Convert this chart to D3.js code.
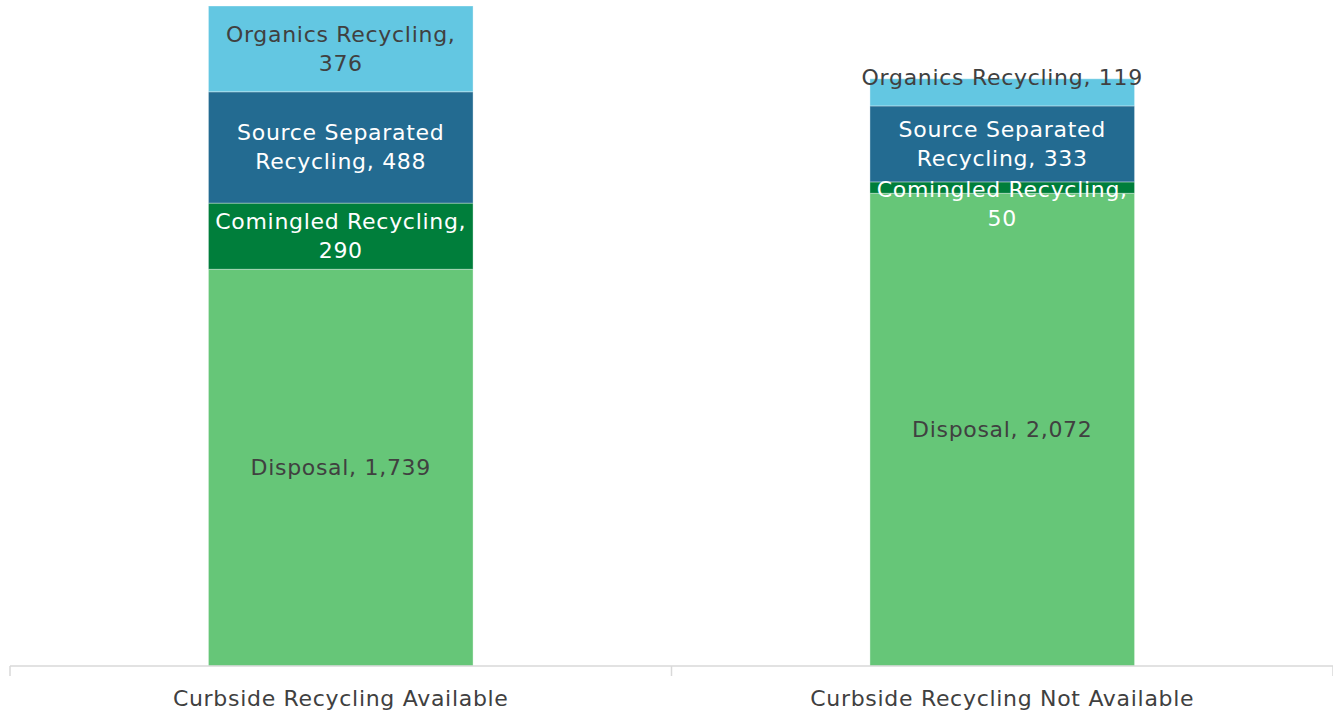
<!DOCTYPE html>
<html>
<head>
<meta charset="utf-8">
<script src="https://cdn.jsdelivr.net/npm/d3@7"></script>
<style>
  body { margin: 0; background: #fff; }
  svg text { font-family: "DejaVu Sans", sans-serif; letter-spacing: 0.7px; }
</style>
</head>
<body>
<div id="chart"></div>
<script>
// data
const categories = ['Curbside Recycling Available', 'Curbside Recycling Not Available'];
const seriesNames = ['Disposal', 'Comingled Recycling', 'Source Separated Recycling', 'Organics Recycling'];
const disposal = [1739, 2072];
const comingled = [290, 50];
const sourceSeparated = [488, 333];
const organics = [376, 119];

const seriesValues = [disposal, comingled, sourceSeparated, organics];
const colors = ['#66c678', '#007e3b', '#236b91', '#63c7e2'];
const labelColors = ['#404040', '#ffffff', '#ffffff', '#404040'];

const width = 1333, height = 714;
const fontSize = 22, lineH = 29;

const svg = d3.select('#chart').append('svg')
  .attr('width', width)
  .attr('height', height);

// stacked rows
const rows = categories.map((c, i) => {
  const r = { cat: c };
  seriesNames.forEach((s, j) => { r[s] = seriesValues[j][i]; });
  return r;
});
const stacked = d3.stack().keys(seriesNames)(rows);

const x = d3.scaleBand()
  .domain(categories)
  .range([10, 1333])
  .paddingInner(0.6)
  .paddingOuter(0.3);

const maxTotal = d3.max(rows, r => d3.sum(seriesNames, s => r[s]));
const y = d3.scaleLinear().domain([0, maxTotal]).range([666, 6]);

// bars
stacked.forEach((layer, j) => {
  svg.append('g')
    .selectAll('rect')
    .data(layer)
    .enter()
    .append('rect')
    .attr('x', d => x(d.data.cat))
    .attr('y', d => y(d[1]))
    .attr('width', x.bandwidth())
    .attr('height', d => y(d[0]) - y(d[1]))
    .attr('fill', colors[j])
    .attr('stroke', '#ffffff')
    .attr('stroke-opacity', 0.35)
    .attr('stroke-width', 1);
});

// axis
const step = x.step();
const axis = svg.append('g').attr('transform', 'translate(0,666)');
axis.append('line')
  .attr('x1', 10).attr('x2', 1333)
  .attr('y1', 0).attr('y2', 0)
  .attr('stroke', '#d9d9d9').attr('stroke-width', 1.5);
const tickXs = [10].concat(categories.map(c => x(c) - x.paddingOuter() * step + step));
axis.selectAll('.tk')
  .data(tickXs)
  .enter()
  .append('line')
  .attr('x1', d => d).attr('x2', d => d)
  .attr('y1', 0).attr('y2', 10)
  .attr('stroke', '#d9d9d9').attr('stroke-width', 1.5);
axis.selectAll('.cat')
  .data(categories)
  .enter()
  .append('text')
  .attr('x', d => x(d) + x.bandwidth() / 2)
  .attr('y', 32)
  .attr('text-anchor', 'middle')
  .attr('dominant-baseline', 'central')
  .attr('font-size', fontSize)
  .attr('fill', '#404040')
  .text(d => d);

// label helpers
const measure = svg.append('text').attr('font-size', fontSize).attr('visibility', 'hidden');
function textW(s) { measure.text(s); return measure.node().getComputedTextLength(); }
function wrap(s, maxW) {
  const words = s.split(' ');
  const lines = [];
  let cur = '';
  words.forEach(w => {
    const t = cur ? cur + ' ' + w : w;
    if (cur && textW(t) > maxW) { lines.push(cur); cur = w; } else { cur = t; }
  });
  lines.push(cur);
  return lines;
}
// excel-style nudges for labels that do not fit their segment
const noWrap = { 'Organics Recycling|1': true };
const labelShift = { 'Organics Recycling|1': -15, 'Comingled Recycling|1': 16 };

stacked.forEach((layer, j) => {
  layer.forEach((d, i) => {
    const s = seriesNames[j];
    const key = s + '|' + i;
    const txt = s + ', ' + d3.format(',')(seriesValues[j][i]);
    const lines = noWrap[key] ? [txt] : wrap(txt, x.bandwidth() - 4);
    const cy = (y(d[0]) + y(d[1])) / 2 + (labelShift[key] || 0);
    const t = svg.append('text')
      .attr('text-anchor', 'middle')
      .attr('font-size', fontSize)
      .attr('fill', labelColors[j]);
    lines.forEach((ln, k) => {
      t.append('tspan')
        .attr('x', x(d.data.cat) + x.bandwidth() / 2)
        .attr('y', cy + (k - (lines.length - 1) / 2) * lineH)
        .attr('dominant-baseline', 'central')
        .text(ln);
    });
  });
});
measure.remove();
</script>
</body>
</html>
